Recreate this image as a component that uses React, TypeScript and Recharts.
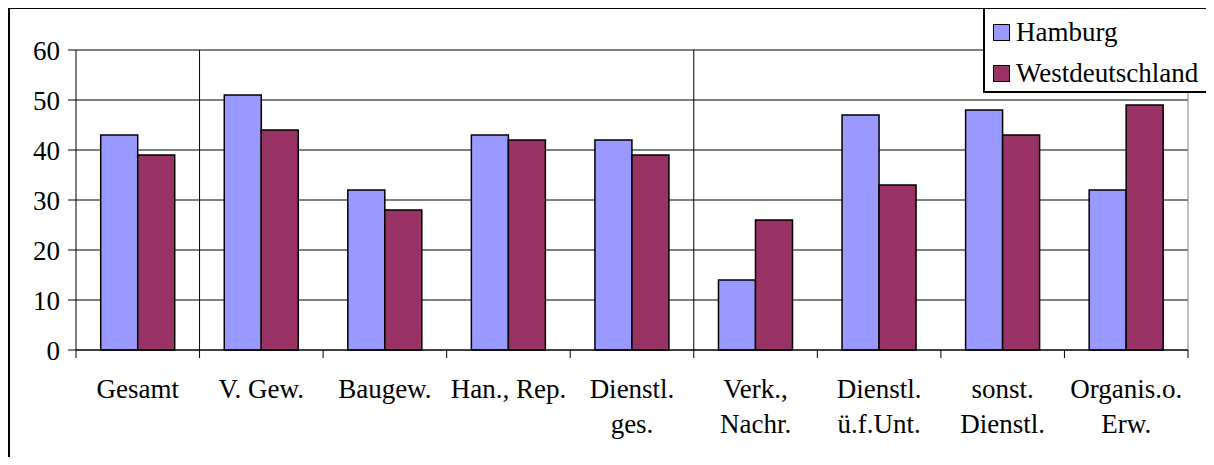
import {
  Bar,
  BarChart,
  CartesianGrid,
  Legend,
  ReferenceLine,
  XAxis,
  YAxis,
} from "recharts";

const categories = [
  "Gesamt",
  "V. Gew.",
  "Baugew.",
  "Han., Rep.",
  "Dienstl.\nges.",
  "Verk.,\nNachr.",
  "Dienstl.\nü.f.Unt.",
  "sonst.\nDienstl.",
  "Organis.o.\nErw.",
];
const hamburg = [43, 51, 32, 43, 42, 14, 47, 48, 32];
const westdeutschland = [39, 44, 28, 42, 39, 26, 33, 43, 49];
const yTicks = [0, 10, 20, 30, 40, 50, 60];
// group separators, counted in categories from the left
const dividers = [1, 5];

const FONT = "Liberation Serif, Times New Roman, serif";
const FONT_SIZE = 27;
const HAMBURG = "#9999ff";
const WEST = "#993366";

const data = categories.map((name, i) => ({
  name,
  pos: i + 0.5,
  hamburg: hamburg[i],
  west: westdeutschland[i],
}));

function CategoryTick(props: any) {
  const { x, y, payload, index } = props;
  const half = payload?.offset ?? 0;
  const lines = String(payload.value).split("\n");
  const last = index === categories.length - 1;
  return (
    <g>
      <line x1={x - half} x2={x - half} y1={y} y2={y + 8} stroke="#000" />
      {last && <line x1={x + half} x2={x + half} y1={y} y2={y + 8} stroke="#000" />}
      <text x={x} y={y + 48} textAnchor="middle" fontFamily={FONT} fontSize={FONT_SIZE} fill="#000">
        {lines.map((l, i) => (
          <tspan key={i} x={x} dy={i === 0 ? 0 : 35}>
            {l}
          </tspan>
        ))}
      </text>
    </g>
  );
}

function LegendBox() {
  const items = [
    { label: "Hamburg", color: HAMBURG },
    { label: "Westdeutschland", color: WEST },
  ];
  return (
    <div
      style={{
        position: "relative",
        boxSizing: "border-box",
        width: 230,
        height: 86,
        border: "2px solid #000",
        background: "#fff",
        fontFamily: FONT,
        fontSize: FONT_SIZE,
        color: "#000",
      }}
    >
      {items.map((it, i) => (
        <div
          key={it.label}
          style={{
            position: "absolute",
            left: 8,
            top: 3 + i * 41,
            height: 41,
            display: "flex",
            alignItems: "center",
            whiteSpace: "nowrap",
          }}
        >
          <span
            style={{
              boxSizing: "border-box",
              width: 17,
              height: 17,
              background: it.color,
              border: "1.5px solid #000",
              marginRight: 6,
              flex: "none",
            }}
          />
          <span style={{ lineHeight: 1 }}>{it.label}</span>
        </div>
      ))}
    </div>
  );
}

export default function App() {
  return (
    <div style={{ position: "relative", width: 1214, height: 465, margin: -8, overflow: "hidden" }}>
      <div
        style={{
          position: "absolute",
          left: 8,
          top: 7,
          width: 1220,
          height: 520,
          boxSizing: "border-box",
          border: "2px solid #000",
        }}
      />
      <div style={{ position: "absolute", left: 0, top: 0 }}>
        <BarChart
          width={1214}
          height={465}
          data={data}
          margin={{ top: 50, right: 26, bottom: 15, left: 16 }}
          barCategoryGap="20%"
          barGap={0}
        >
          <CartesianGrid vertical={false} stroke="#000" />
          <XAxis
            dataKey="name"
            height={100}
            tickLine={false}
            tickSize={0}
            tickMargin={0}
            axisLine={{ stroke: "#000" }}
            interval={0}
            tick={<CategoryTick />}
          />
          <XAxis xAxisId="div" type="number" dataKey="pos" domain={[0, 9]} allowDataOverflow hide />
          <YAxis
            width={60}
            domain={[0, 60]}
            ticks={yTicks}
            interval={0}
            tickSize={8}
            tickMargin={8}
            axisLine={{ stroke: "#000" }}
            tickLine={{ stroke: "#000" }}
            tick={{ fill: "#000", fontSize: FONT_SIZE, fontFamily: FONT }}
          />
          <ReferenceLine y={60} stroke="#808080" />
          <ReferenceLine xAxisId="div" x={9} stroke="#808080" />
          {dividers.map((d) => (
            <ReferenceLine key={d} xAxisId="div" x={d} stroke="#000" />
          ))}
          <Bar dataKey="hamburg" name="Hamburg" fill={HAMBURG} stroke="#000" strokeWidth={1.5} isAnimationActive={false} />
          <Bar dataKey="west" name="Westdeutschland" fill={WEST} stroke="#000" strokeWidth={1.5} isAnimationActive={false} />
          <Legend
            layout="horizontal"
            verticalAlign="middle"
            align="center"
            content={() => <LegendBox />}
            wrapperStyle={{ position: "absolute", left: 983, top: 7, width: 230, height: 86 }}
          />
        </BarChart>
      </div>
    </div>
  );
}
